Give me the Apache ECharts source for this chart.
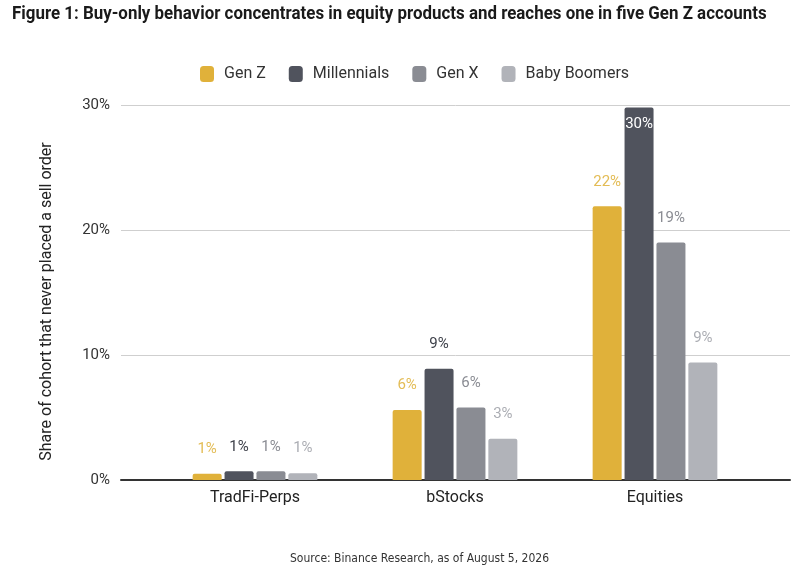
<!DOCTYPE html>
<html>
<head>
<meta charset="utf-8">
<script src="https://cdn.jsdelivr.net/npm/echarts@6/dist/echarts.min.js"></script>
<style>
  html, body { margin: 0; padding: 0; background: #fff; }
  #chart { width: 800px; height: 574px; }
</style>
</head>
<body>
<div id="chart"></div>
<script>
// data (percent of cohort)
const categories = ['TradFi-Perps', 'bStocks', 'Equities'];
const cohorts = ['Gen Z', 'Millennials', 'Gen X', 'Baby Boomers'];
const genZ = [0.5, 5.6, 21.9];
const millennials = [0.7, 8.9, 29.8];
const genX = [0.7, 5.8, 19.0];
const boomers = [0.55, 3.3, 9.4];
const genZLabels = ['1%', '6%', '22%'];
const millennialsLabels = ['1%', '9%', '30%'];
const genXLabels = ['1%', '6%', '19%'];
const boomersLabels = ['1%', '3%', '9%'];
const yTicks = [0, 10, 20, 30];

const colors = ['#E0B13A', '#50535D', '#8A8C93', '#B1B3B9'];
const labelColors = ['#E3BC55', '#3E414A', '#8A8C93', '#ABADB3'];
const font = 'Roboto, "Liberation Sans", sans-serif';

const chart = echarts.init(document.getElementById('chart'));

function makeSeries(idx, values, labels) {
    let data = values.map(function (v, i) {
        let item = { value: v, labelText: labels[i] };
        // the tallest bar has its label tucked inside the top
        if (v >= 29) {
            item.label = { position: 'insideTop', distance: 9, color: '#fff' };
        }
        return item;
    });
    return {
        name: cohorts[idx],
        type: 'bar',
        xAxisIndex: 1,
        yAxisIndex: 1,
        barWidth: 29,
        barGap: '10%',
        data: data,
        itemStyle: { color: colors[idx], borderRadius: [2, 2, 0, 0] },
        label: {
            show: true,
            position: 'top',
            distance: 17,
            fontFamily: font,
            fontSize: 15,
            color: labelColors[idx],
            formatter: function (p) { return p.data.labelText; }
        }
    };
}

let option = {
    animation: false,
    graphic: [{
        // condensed bold title, squeezed horizontally
        type: 'text',
        left: 12,
        top: 5,
        scaleX: 0.89,
        style: {
            text: 'Figure 1: Buy-only behavior concentrates in equity products and reaches one in five Gen Z accounts',
            font: 'bold 19px Roboto, sans-serif',
            fill: '#1a1a1a'
        }
    }],
    title: {
        text: 'Source: Binance Research, as of August 5, 2026',
        left: 285,
        top: 548,
        textStyle: { fontFamily: '"DejaVu Sans Condensed", sans-serif', fontWeight: 'normal', fontSize: 12, color: '#333' }
    },
    legend: {
        data: cohorts,
        top: 61,
        left: 195,
        icon: 'roundRect',
        itemWidth: 14,
        itemHeight: 16,
        itemGap: 23,
        textStyle: { fontFamily: font, fontSize: 16, color: '#333', padding: [0, 0, 0, 5] }
    },
    grid: [
        { left: 121, right: 10, top: 105, bottom: 94 },
        { left: 155, right: 45, top: 105, bottom: 94 }
    ],
    xAxis: [{
        gridIndex: 0,
        type: 'value',
        min: 0,
        max: 1,
        axisLine: { show: true, onZero: false, lineStyle: { color: '#333', width: 2 } },
        axisTick: { show: false },
        axisLabel: { show: false },
        splitLine: { show: false }
    }, {
        gridIndex: 1,
        type: 'category',
        data: categories,
        axisLine: { show: false },
        axisTick: { show: false },
        axisLabel: { margin: 10, fontFamily: font, fontSize: 16, color: '#222' }
    }],
    yAxis: [{
        gridIndex: 0,
        type: 'value',
        min: yTicks[0],
        max: yTicks[yTicks.length - 1],
        interval: 10,
        name: 'Share of cohort that never placed a sell order',
        nameLocation: 'middle',
        nameRotate: 90,
        nameGap: 66,
        nameTextStyle: { fontFamily: font, fontSize: 16, color: '#222', padding: [0, 18, 0, 0] },
        axisLine: { show: false },
        axisTick: { show: false },
        axisLabel: { margin: 11, fontFamily: font, fontSize: 15, color: '#333', formatter: '{value}%' },
        splitLine: { lineStyle: { color: '#CFCFCF', width: 1 } }
    }, {
        gridIndex: 1,
        type: 'value',
        min: yTicks[0],
        max: yTicks[yTicks.length - 1],
        interval: 10,
        show: false,
        splitLine: { show: false }
    }],
    series: [
        makeSeries(0, genZ, genZLabels),
        makeSeries(1, millennials, millennialsLabels),
        makeSeries(2, genX, genXLabels),
        makeSeries(3, boomers, boomersLabels)
    ]
};
chart.setOption(option);
</script>
</body>
</html>
